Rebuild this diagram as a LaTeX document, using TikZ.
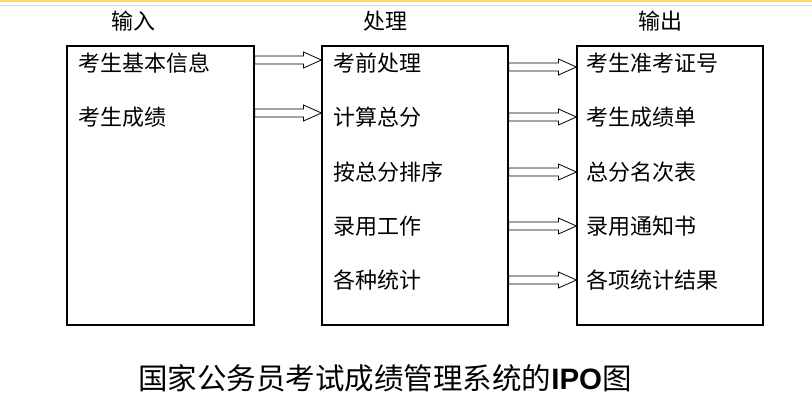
\documentclass[tikz,border=0pt]{standalone}
\usepackage{fontspec}
\setmainfont{Noto Sans CJK SC}
\newfontfamily\latinfont{Liberation Sans}
\usetikzlibrary{calc}
\definecolor{rulegold}{RGB}{255,217,102}
\tikzset{
  ipobox/.style={draw, line width=1.2pt, inner sep=0pt, minimum width=186pt, minimum height=279pt},
  item/.style={anchor=west, inner sep=0pt, font=\fontsize{22}{25}\selectfont},
  head/.style={inner sep=0pt, font=\fontsize{22}{25}\selectfont},
  hollowarrow/.style={draw, line width=0.8pt, line join=miter, fill=white}
}
% hollow block arrow from #1 to #2 (same height)
\newcommand{\ipoarrow}[2]{%
  \path #1 coordinate (a0) #2 coordinate (a1);
  \draw [hollowarrow] let \p1 = (a0), \p2 = (a1) in
    (\x1, \y1+4pt) -- (\x2-18pt, \y1+4pt) -- (\x2-18pt, \y1+8pt) -- (\x2, \y1)
    -- (\x2-18pt, \y1-8pt) -- (\x2-18pt, \y1-4pt) -- (\x1, \y1-4pt) -- cycle;}
\begin{document}
\begin{tikzpicture}[x=1pt, y=-1pt]
    \useasboundingbox (0, 0) rectangle (812, 400);
    % rules at the top
    \draw [rulegold, line width=1.5pt] (0, 0.8) -- (812, 0.8);
    \draw [rulegold, line width=1.5pt] (0, 5.5) -- (812, 5.5);
    % headings
    \node [head] (hin) at (133, 21) {输入};
    \node [head] (hpr) at (385, 21) {处理};
    \node [head] (hout) at (660, 21) {输出};
    % boxes
    \node [ipobox, minimum width=187pt] (inbox) at (160.5, 185.5) {};
    \node [ipobox] (prbox) at (415, 185.5) {};
    \node [ipobox] (outbox) at (670, 185.5) {};
    % input
    \node [item] (in1) at (78, 63) {考生基本信息};
    \node [item] (in2) at (78, 117) {考生成绩};
    % process
    \node [item] (pr1) at (333, 63) {考前处理};
    \node [item] (pr2) at (333, 117) {计算总分};
    \node [item] (pr3) at (333, 172) {按总分排序};
    \node [item] (pr4) at (333, 226) {录用工作};
    \node [item] (pr5) at (333, 280) {各种统计};
    % output
    \node [item] (out1) at (586, 63) {考生准考证号};
    \node [item] (out2) at (586, 117) {考生成绩单};
    \node [item] (out3) at (586, 172) {总分名次表};
    \node [item] (out4) at (586, 226) {录用通知书};
    \node [item] (out5) at (586, 280) {各项统计结果};
    % arrows input -> process
    \ipoarrow{([yshift=3pt]inbox.east |- in1)}{([yshift=3pt]prbox.west |- in1)}
    \ipoarrow{([yshift=4pt]inbox.east |- in2)}{([yshift=4pt]prbox.west |- in2)}
    % arrows process -> output
    \ipoarrow{([yshift=-4pt]prbox.east |- pr1)}{([yshift=-4pt]outbox.west |- pr1)}
    \ipoarrow{(prbox.east |- pr2)}{(outbox.west |- pr2)}
    \ipoarrow{(prbox.east |- pr3)}{(outbox.west |- pr3)}
    \ipoarrow{(prbox.east |- pr4)}{(outbox.west |- pr4)}
    \ipoarrow{(prbox.east |- pr5)}{(outbox.west |- pr5)}
    % caption
    \node [inner sep=0pt, font=\fontsize{29.5}{33}\selectfont] (cap) at (385, 378)
      {国家公务员考试成绩管理系统的{\latinfont\bfseries IPO}图};
\end{tikzpicture}
\end{document}
